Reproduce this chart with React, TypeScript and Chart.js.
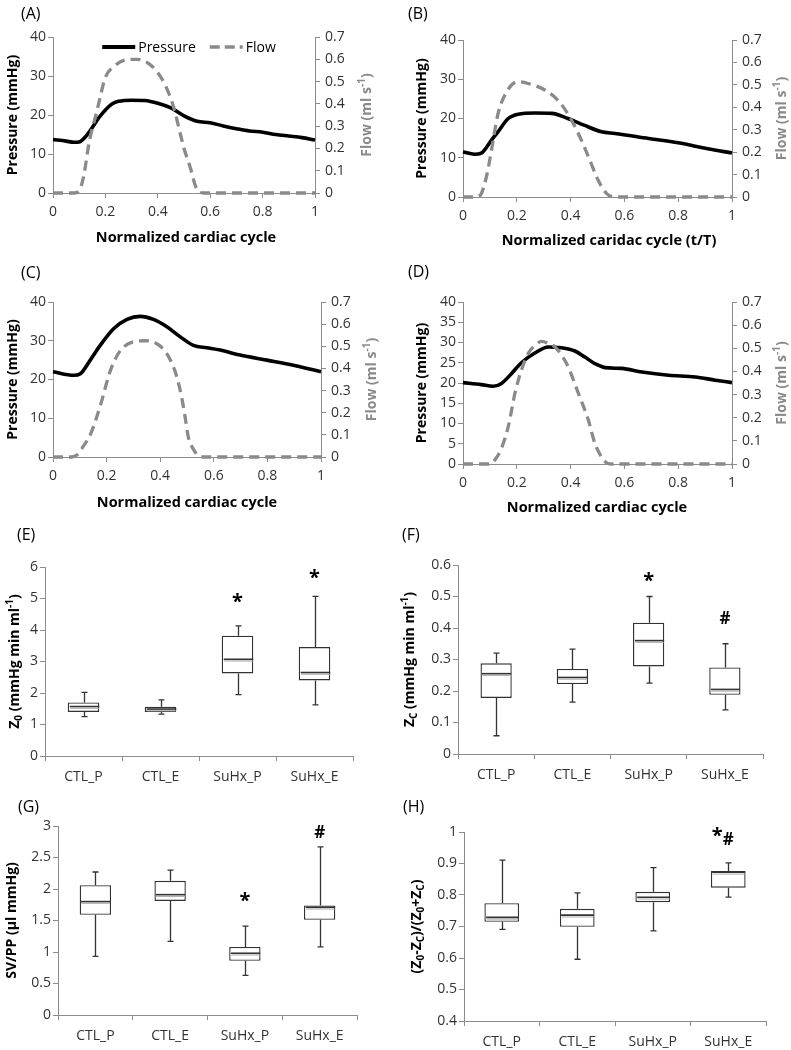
import React, { useEffect, useRef } from 'react';
import { Chart, registerables } from 'chart.js';
Chart.register(...registerables);

// ---------------- DATA ----------------
// Panel A
const pressureA_t = [0, 0.05, 0.08, 0.1, 0.125, 0.15, 0.175, 0.2, 0.225, 0.25, 0.3, 0.35, 0.4, 0.45, 0.5, 0.55, 0.6, 0.65, 0.7, 0.75, 0.8, 0.85, 0.9, 0.95, 1];
const pressureA = [13.7, 13.3, 13.0, 13.1, 14.5, 16.8, 19.3, 21.3, 22.8, 23.5, 23.8, 23.7, 23.0, 21.8, 19.8, 18.4, 18.0, 17.2, 16.5, 15.9, 15.6, 15.0, 14.6, 14.2, 13.6];
const flowA_t = [0, 0.08, 0.1, 0.116, 0.14, 0.166, 0.18, 0.2, 0.23, 0.28, 0.32, 0.36, 0.4, 0.43, 0.46, 0.485, 0.5, 0.523, 0.548, 0.575, 1];
const flowA = [0, 0, 0.01, 0.07, 0.24, 0.36, 0.43, 0.52, 0.565, 0.598, 0.6, 0.585, 0.54, 0.48, 0.387, 0.27, 0.2, 0.118, 0.02, 0, 0];
// Panel B
const pressureB_t = [0, 0.043, 0.068, 0.106, 0.13, 0.168, 0.205, 0.267, 0.33, 0.39, 0.45, 0.515, 0.565, 0.69, 0.8, 0.91, 1];
const pressureB = [11.5, 10.9, 11.2, 14.5, 16.6, 20.0, 21.1, 21.4, 21.3, 20.0, 18.3, 16.6, 16.2, 14.9, 13.8, 12.3, 11.2];
const flowB_t = [0, 0.05, 0.068, 0.087, 0.106, 0.13, 0.168, 0.205, 0.242, 0.304, 0.354, 0.39, 0.43, 0.466, 0.503, 0.534, 0.565, 1];
const flowB = [0, 0, 0.015, 0.09, 0.21, 0.37, 0.48, 0.514, 0.506, 0.477, 0.43, 0.37, 0.28, 0.18, 0.074, 0.015, 0, 0];
// Panel C
const pressureC_t = [0, 0.077, 0.102, 0.139, 0.176, 0.226, 0.276, 0.325, 0.375, 0.425, 0.475, 0.524, 0.574, 0.624, 0.698, 0.798, 0.897, 1];
const pressureC = [22.0, 21.1, 21.5, 25.0, 28.8, 33.1, 35.5, 36.3, 35.5, 33.6, 31.0, 28.8, 28.2, 27.6, 26.3, 25.0, 23.7, 22.0];
const flowC_t = [0, 0.07, 0.09, 0.114, 0.139, 0.176, 0.214, 0.251, 0.3, 0.35, 0.41, 0.437, 0.46, 0.48, 0.493, 0.505, 0.524, 0.545, 0.56, 1];
const flowC = [0, 0, 0.01, 0.05, 0.1, 0.23, 0.39, 0.48, 0.52, 0.525, 0.49, 0.44, 0.37, 0.27, 0.18, 0.09, 0.035, 0.003, 0, 0];
// Panel D
const pressureD_t = [0, 0.068, 0.112, 0.143, 0.18, 0.217, 0.267, 0.317, 0.366, 0.416, 0.453, 0.49, 0.528, 0.59, 0.665, 0.764, 0.863, 0.938, 1];
const pressureD = [20.1, 19.6, 19.2, 19.9, 22.3, 25.0, 27.4, 28.9, 28.7, 27.9, 26.4, 24.8, 23.8, 23.6, 22.7, 21.9, 21.5, 20.7, 20.1];
const flowD_t = [0, 0.1, 0.118, 0.143, 0.168, 0.193, 0.217, 0.242, 0.27, 0.292, 0.32, 0.342, 0.367, 0.391, 0.429, 0.466, 0.49, 0.515, 0.534, 0.55, 1];
const flowD = [0, 0, 0.017, 0.068, 0.16, 0.305, 0.405, 0.477, 0.515, 0.53, 0.52, 0.506, 0.47, 0.42, 0.305, 0.19, 0.09, 0.03, 0.005, 0, 0];

// Box plots
const groups = ['CTL_P', 'CTL_E', 'SuHx_P', 'SuHx_E'];
// E: Z0
const z0Min = [1.25, 1.33, 1.95, 1.62];
const z0Q1 = [1.40, 1.40, 2.62, 2.40];
const z0Med = [1.57, 1.49, 3.07, 2.65];
const z0Q3 = [1.70, 1.56, 3.82, 3.46];
const z0Max = [2.02, 1.78, 4.13, 5.07];
const z0Marks = [{ cat: 2, text: '*', value: 5.02 }, { cat: 3, text: '*', value: 5.78 }];
// F: Zc
const zcMin = [0.058, 0.165, 0.225, 0.14];
const zcQ1 = [0.178, 0.222, 0.278, 0.188];
const zcMed = [0.255, 0.243, 0.36, 0.205];
const zcQ3 = [0.288, 0.27, 0.417, 0.275];
const zcMax = [0.32, 0.333, 0.50, 0.35];
const zcMarks = [{ cat: 2, text: '*', value: 0.562 }, { cat: 3, text: '#', value: 0.432 }];
// G: SV/PP
const svppMin = [0.93, 1.17, 0.63, 1.08];
const svppQ1 = [1.59, 1.81, 0.86, 1.51];
const svppMed = [1.80, 1.91, 0.98, 1.71];
const svppQ3 = [2.06, 2.13, 1.08, 1.74];
const svppMax = [2.27, 2.30, 1.41, 2.67];
const svppMarks = [{ cat: 2, text: '*', value: 1.87 }, { cat: 3, text: '#', value: 2.92 }];
// H: (Z0-Zc)/(Z0+Zc)
const ratioMin = [0.691, 0.596, 0.686, 0.793];
const ratioQ1 = [0.715, 0.699, 0.777, 0.823];
const ratioMed = [0.729, 0.736, 0.793, 0.872];
const ratioQ3 = [0.774, 0.756, 0.810, 0.876];
const ratioMax = [0.911, 0.807, 0.887, 0.902];
const ratioMarks = [{ cat: 3, text: '*', value: 1.0 }, { cat: 3, text: '#', value: 0.978 }];

// ---------------- STYLE ----------------
const FONT = '"Open Sans", "DejaVu Sans", sans-serif';
const TICK_COLOR = '#333333';
const AXIS_COLOR = '#8c8c8c';
const FLOW_COLOR = '#8a8a8a';
const BOX_COLOR = '#333333';

type Seg = { t: string; s?: 'sub' | 'sup' };

function drawRich(ctx: CanvasRenderingContext2D, segs: Seg[], x: number, y: number, size: number, color: string, rotate: boolean) {
  ctx.save();
  ctx.translate(x, y);
  if (rotate) ctx.rotate(-Math.PI / 2);
  const fontFor = (seg: Seg) => `bold ${seg.s ? Math.round(size * 0.68) : size}px ${FONT}`;
  let total = 0;
  const widths = segs.map((seg) => {
    ctx.font = fontFor(seg);
    const w = ctx.measureText(seg.t).width;
    total += w;
    return w;
  });
  let cx = -total / 2;
  ctx.fillStyle = color;
  ctx.textBaseline = 'middle';
  ctx.textAlign = 'left';
  segs.forEach((seg, i) => {
    ctx.font = fontFor(seg);
    const dy = seg.s === 'sub' ? size * 0.3 : seg.s === 'sup' ? -size * 0.33 : 0;
    ctx.fillText(seg.t, cx, dy);
    cx += widths[i];
  });
  ctx.restore();
}

const pts = (t: number[], v: number[]) => t.map((x, i) => ({ x, y: v[i] }));
const fmt = (v: any) => String(Number(Number(v).toFixed(3)));

interface Area { l: number; r: number; t: number; b: number }

interface LineSpec {
  kind: 'line';
  label: string; labelX: number; labelY: number;
  left: number; top: number; w: number; h: number;
  area: Area;
  xTitle: string; xTitleX: number; xTitleY: number;
  yTitleX: number; y2TitleX: number;
  yStep: number;
  pT: number[]; pV: number[]; fT: number[]; fV: number[];
  legend: boolean;
}

interface BoxSpec {
  kind: 'box';
  label: string; labelX: number; labelY: number;
  left: number; top: number; w: number; h: number;
  area: Area;
  yTitle: Seg[]; yTitleX: number;
  yMin: number; yMax: number; yStep: number;
  mn: number[]; q1: number[]; med: number[]; q3: number[]; mx: number[];
  marks: { cat: number; text: string; value: number }[];
  barPct: number;
}

type Spec = LineSpec | BoxSpec;

const tickFont = { family: FONT, size: 14 };

function axisCommon() {
  return {
    grid: { drawOnChartArea: false, drawTicks: true, tickLength: 5, color: AXIS_COLOR, lineWidth: 1 },
    border: { display: true, color: AXIS_COLOR, width: 1 },
  };
}

function lineConfig(s: LineSpec): any {
  const decor = {
    id: 'decor',
    afterDraw(chart: any) {
      const ctx: CanvasRenderingContext2D = chart.ctx;
      const a = chart.chartArea;
      ctx.save();
      ctx.fillStyle = '#000';
      ctx.font = `16px ${FONT}`;
      ctx.textBaseline = 'middle';
      ctx.textAlign = 'left';
      ctx.fillText(s.label, s.labelX, s.labelY);
      drawRich(ctx, [{ t: s.xTitle }], s.xTitleX, s.xTitleY, 14.5, '#000', false);
      const cy = (a.top + a.bottom) / 2;
      drawRich(ctx, [{ t: 'Pressure (mmHg)' }], s.yTitleX, cy, 14, '#000', true);
      drawRich(ctx, [{ t: 'Flow (ml s' }, { t: '-1', s: 'sup' }, { t: ')' }], s.y2TitleX, cy, 14, FLOW_COLOR, true);
      if (s.legend) {
        ctx.font = `14px ${FONT}`;
        const lineLen = 33, gap = 3, between = 14;
        const w1 = ctx.measureText('Pressure').width;
        const w2 = ctx.measureText('Flow').width;
        const total = lineLen + gap + w1 + between + lineLen + gap + w2;
        let x = (a.left + a.right) / 2 + 5 - total / 2;
        const y = a.top + 10;
        ctx.strokeStyle = '#000';
        ctx.lineWidth = 4;
        ctx.beginPath(); ctx.moveTo(x, y); ctx.lineTo(x + lineLen, y); ctx.stroke();
        x += lineLen + gap;
        ctx.fillStyle = '#000';
        ctx.textBaseline = 'middle';
        ctx.fillText('Pressure', x, y + 1);
        x += w1 + between;
        ctx.strokeStyle = FLOW_COLOR;
        ctx.lineWidth = 3.5;
        ctx.setLineDash([10, 5]);
        ctx.beginPath(); ctx.moveTo(x, y); ctx.lineTo(x + lineLen, y); ctx.stroke();
        ctx.setLineDash([]);
        x += lineLen + gap;
        ctx.fillText('Flow', x, y + 1);
      }
      ctx.restore();
    },
  };
  return {
    type: 'line',
    data: {
      datasets: [
        {
          label: 'Pressure', data: pts(s.pT, s.pV), yAxisID: 'y', borderColor: '#000', borderWidth: 3.6,
          pointRadius: 0, cubicInterpolationMode: 'monotone', fill: false, order: 2, clip: 10,
        },
        {
          label: 'Flow', data: pts(s.fT, s.fV), yAxisID: 'y1', borderColor: FLOW_COLOR, borderWidth: 3.3,
          borderDash: [10, 6], pointRadius: 0, cubicInterpolationMode: 'monotone', fill: false, order: 1, clip: 10,
        },
      ],
    },
    options: {
      responsive: false, animation: false, events: [],
      layout: { padding: { top: s.area.t, left: 0, right: 0, bottom: 0 } },
      plugins: { legend: { display: false }, tooltip: { enabled: false } },
      scales: {
        x: {
          type: 'linear', min: 0, max: 1, ...axisCommon(),
          ticks: { stepSize: 0.2, color: TICK_COLOR, font: tickFont, padding: 6, maxRotation: 0, callback: fmt },
          afterFit: (sc: any) => { sc.height = s.h - s.area.b; },
        },
        y: {
          type: 'linear', position: 'left', min: 0, max: 40, ...axisCommon(),
          ticks: { stepSize: s.yStep, color: TICK_COLOR, font: tickFont, padding: 2, callback: fmt },
          afterFit: (sc: any) => { sc.width = s.area.l; },
        },
        y1: {
          type: 'linear', position: 'right', min: 0, max: 0.7, ...axisCommon(),
          ticks: { stepSize: 0.1, color: TICK_COLOR, font: tickFont, padding: 5, callback: fmt },
          afterFit: (sc: any) => { sc.width = s.w - s.area.r; },
        },
      },
    },
    plugins: [decor],
  };
}

function boxConfig(s: BoxSpec): any {
  const decor = {
    id: 'boxdecor',
    afterDatasetsDraw(chart: any) {
      const ctx: CanvasRenderingContext2D = chart.ctx;
      const xs = chart.scales.x;
      const ys = chart.scales.y;
      const meta = chart.getDatasetMeta(0);
      ctx.save();
      s.mn.forEach((_, i) => {
        const x = Math.round(xs.getPixelForValue(i)) + 0.5;
        const bar = meta.data[i];
        const half = bar ? bar.width / 2 : 15;
        const yMax = ys.getPixelForValue(s.mx[i]);
        const yQ3 = ys.getPixelForValue(s.q3[i]);
        const yQ1 = ys.getPixelForValue(s.q1[i]);
        const yMin = ys.getPixelForValue(s.mn[i]);
        const yMed = ys.getPixelForValue(s.med[i]);
        ctx.strokeStyle = BOX_COLOR;
        ctx.lineWidth = 1.3;
        ctx.beginPath();
        ctx.moveTo(x, yMax); ctx.lineTo(x, yQ3);
        ctx.moveTo(x, yQ1); ctx.lineTo(x, yMin);
        ctx.moveTo(x - 3, yMax); ctx.lineTo(x + 3, yMax);
        ctx.moveTo(x - 3, yMin); ctx.lineTo(x + 3, yMin);
        ctx.stroke();
        ctx.strokeStyle = '#b0b0b0';
        ctx.lineWidth = 1;
        ctx.beginPath();
        ctx.moveTo(x - half + 1.5, yMed + 1.8); ctx.lineTo(x + half - 1.5, yMed + 1.8);
        ctx.stroke();
        ctx.strokeStyle = BOX_COLOR;
        ctx.lineWidth = 1.6;
        ctx.beginPath();
        ctx.moveTo(x - half + 1, yMed); ctx.lineTo(x + half - 1, yMed);
        ctx.stroke();
      });
      // significance markers
      const perCat: Record<number, number> = {};
      s.marks.forEach((m) => { perCat[m.cat] = (perCat[m.cat] || 0) + 1; });
      const seen: Record<number, number> = {};
      s.marks.forEach((m) => {
        const n = perCat[m.cat];
        const k = seen[m.cat] || 0;
        seen[m.cat] = k + 1;
        let x = xs.getPixelForValue(m.cat);
        if (n > 1) x += k === 0 ? -11 : 0;
        const y = ys.getPixelForValue(m.value);
        ctx.font = m.text === '*' ? `bold 20px ${FONT}` : `bold 17px ${FONT}`;
        ctx.fillStyle = '#000';
        ctx.textAlign = 'center';
        ctx.textBaseline = 'alphabetic';
        const mt = ctx.measureText(m.text);
        const asc = mt.actualBoundingBoxAscent || 10;
        const desc = mt.actualBoundingBoxDescent || 0;
        ctx.fillText(m.text, x, y + (asc - desc) / 2);
      });
      ctx.restore();
    },
    afterDraw(chart: any) {
      const ctx: CanvasRenderingContext2D = chart.ctx;
      const a = chart.chartArea;
      ctx.save();
      ctx.fillStyle = '#000';
      ctx.font = `16px ${FONT}`;
      ctx.textBaseline = 'middle';
      ctx.textAlign = 'left';
      ctx.fillText(s.label, s.labelX, s.labelY);
      drawRich(ctx, s.yTitle, s.yTitleX, (a.top + a.bottom) / 2, 14, '#000', true);
      ctx.restore();
    },
  };
  return {
    type: 'bar',
    data: {
      labels: groups,
      datasets: [{
        label: 'IQR', data: s.q1.map((v, i) => [v, s.q3[i]]),
        backgroundColor: '#ffffff', borderColor: BOX_COLOR, borderWidth: 1.4, borderSkipped: false,
        barPercentage: s.barPct, categoryPercentage: 1,
      }],
    },
    options: {
      responsive: false, animation: false, events: [],
      layout: { padding: { top: s.area.t, left: 0, right: s.w - s.area.r, bottom: 0 } },
      plugins: { legend: { display: false }, tooltip: { enabled: false } },
      scales: {
        x: {
          type: 'category', offset: true,
          grid: { offset: true, drawOnChartArea: false, drawTicks: true, tickLength: 5, color: AXIS_COLOR },
          border: { display: true, color: AXIS_COLOR, width: 1 },
          ticks: { color: TICK_COLOR, font: tickFont, padding: 8, maxRotation: 0 },
          afterFit: (sc: any) => { sc.height = s.h - s.area.b; },
        },
        y: {
          type: 'linear', min: s.yMin, max: s.yMax, ...axisCommon(),
          ticks: { stepSize: s.yStep, color: TICK_COLOR, font: tickFont, padding: 2, callback: fmt },
          afterFit: (sc: any) => { sc.width = s.area.l; },
        },
      },
    },
    plugins: [decor],
  };
}

const specs: Spec[] = [
  {
    kind: 'line', label: '(A)', labelX: 21, labelY: 14, left: 0, top: 0, w: 395, h: 255,
    area: { l: 53, r: 315, t: 37, b: 193 }, xTitle: 'Normalized cardiac cycle', xTitleX: 186, xTitleY: 238,
    yTitleX: 13, y2TitleX: 367, yStep: 10, pT: pressureA_t, pV: pressureA, fT: flowA_t, fV: flowA, legend: true,
  },
  {
    kind: 'line', label: '(B)', labelX: 13, labelY: 14, left: 395, top: 0, w: 396, h: 255,
    area: { l: 68, r: 337, t: 40, b: 197 }, xTitle: 'Normalized caridac cycle (t/T)', xTitleX: 214, xTitleY: 241,
    yTitleX: 27, y2TitleX: 387, yStep: 10, pT: pressureB_t, pV: pressureB, fT: flowB_t, fV: flowB, legend: false,
  },
  {
    kind: 'line', label: '(C)', labelX: 21, labelY: 18, left: 0, top: 255, w: 395, h: 265,
    area: { l: 53, r: 321, t: 47, b: 202 }, xTitle: 'Normalized cardiac cycle', xTitleX: 187, xTitleY: 248,
    yTitleX: 13, y2TitleX: 372, yStep: 10, pT: pressureC_t, pV: pressureC, fT: flowC_t, fV: flowC, legend: false,
  },
  {
    kind: 'line', label: '(D)', labelX: 13, labelY: 17, left: 395, top: 255, w: 396, h: 265,
    area: { l: 68, r: 337, t: 47, b: 209 }, xTitle: 'Normalized cardiac cycle', xTitleX: 202, xTitleY: 253,
    yTitleX: 27, y2TitleX: 387, yStep: 5, pT: pressureD_t, pV: pressureD, fT: flowD_t, fV: flowD, legend: false,
  },
  {
    kind: 'box', label: '(E)', labelX: 17, labelY: 15, left: 0, top: 520, w: 395, h: 270,
    area: { l: 45, r: 353, t: 47, b: 236 },
    yTitle: [{ t: 'Z' }, { t: '0', s: 'sub' }, { t: ' (mmHg min ml' }, { t: '-1', s: 'sup' }, { t: ')' }], yTitleX: 15,
    yMin: 0, yMax: 6, yStep: 1, mn: z0Min, q1: z0Q1, med: z0Med, q3: z0Q3, mx: z0Max, marks: z0Marks, barPct: 0.41,
  },
  {
    kind: 'box', label: '(F)', labelX: 7, labelY: 15, left: 395, top: 520, w: 396, h: 270,
    area: { l: 63, r: 368, t: 45, b: 234 },
    yTitle: [{ t: 'Z' }, { t: 'C', s: 'sub' }, { t: ' (mmHg min ml' }, { t: '-1', s: 'sup' }, { t: ')' }], yTitleX: 15,
    yMin: 0, yMax: 0.6, yStep: 0.1, mn: zcMin, q1: zcQ1, med: zcMed, q3: zcQ3, mx: zcMax, marks: zcMarks, barPct: 0.41,
  },
  {
    kind: 'box', label: '(G)', labelX: 18, labelY: 17, left: 0, top: 790, w: 395, h: 260,
    area: { l: 58, r: 357, t: 36, b: 225 },
    yTitle: [{ t: 'SV/PP (\u00b5l mmHg)' }], yTitleX: 12,
    yMin: 0, yMax: 3, yStep: 0.5, mn: svppMin, q1: svppQ1, med: svppMed, q3: svppQ3, mx: svppMax, marks: svppMarks, barPct: 0.42,
  },
  {
    kind: 'box', label: '(H)', labelX: 8, labelY: 17, left: 395, top: 790, w: 396, h: 260,
    area: { l: 69, r: 371, t: 42, b: 231 },
    yTitle: [{ t: '(Z' }, { t: '0', s: 'sub' }, { t: '-Z' }, { t: 'C', s: 'sub' }, { t: ')/(Z' }, { t: '0', s: 'sub' }, { t: '+Z' }, { t: 'C', s: 'sub' }, { t: ')' }],
    yTitleX: 22,
    yMin: 0.4, yMax: 1, yStep: 0.1, mn: ratioMin, q1: ratioQ1, med: ratioMed, q3: ratioQ3, mx: ratioMax, marks: ratioMarks, barPct: 0.46,
  },
];

function Panel({ spec }: { spec: Spec }) {
  const ref = useRef<HTMLCanvasElement>(null);
  useEffect(() => {
    if (!ref.current) return;
    const cfg = spec.kind === 'line' ? lineConfig(spec) : boxConfig(spec);
    const chart = new Chart(ref.current, cfg);
    return () => chart.destroy();
  }, [spec]);
  return (
    <div style={{ position: 'absolute', left: spec.left, top: spec.top, width: spec.w, height: spec.h }}>
      <canvas ref={ref} width={spec.w} height={spec.h} style={{ display: 'block', width: spec.w, height: spec.h }} />
    </div>
  );
}

export default function App() {
  return (
    <div style={{ position: 'absolute', left: 0, top: 0, width: 791, height: 1050, background: '#fff', overflow: 'hidden' }}>
      {specs.map((s) => <Panel key={s.label} spec={s} />)}
    </div>
  );
}
